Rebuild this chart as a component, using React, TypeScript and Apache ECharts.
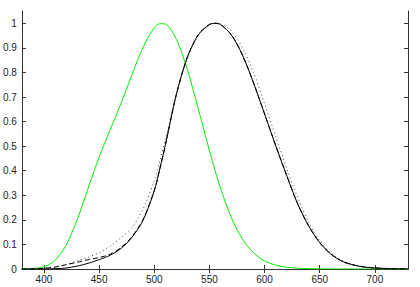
import React, { useEffect, useRef } from "react";
import * as echarts from "echarts";

const wavelengths = [380, 390, 400, 410, 420, 430, 440, 450, 460, 470, 480, 490, 500, 505, 510, 520, 530, 540, 550, 555, 560, 570, 580, 590, 600, 610, 620, 630, 640, 650, 660, 670, 680, 690, 700, 710, 720, 730];
// photopic luminosity — solid black
const photopic = [0.00004, 0.00012, 0.0004, 0.0012, 0.004, 0.0116, 0.023, 0.038, 0.056, 0.084, 0.13, 0.2, 0.318, 0.4073, 0.503, 0.71, 0.862, 0.954, 0.995, 1.0, 0.995, 0.952, 0.87, 0.757, 0.631, 0.503, 0.381, 0.265, 0.175, 0.107, 0.061, 0.032, 0.017, 0.0082, 0.0041, 0.0021, 0.00105, 0.00052];
// modified luminosity — dashed black
const juddVos = [0.0002, 0.0008, 0.0028, 0.0074, 0.0175, 0.0273, 0.0379, 0.0468, 0.06, 0.088, 0.133, 0.203, 0.32, 0.4073, 0.503, 0.71, 0.862, 0.954, 0.995, 1.0, 0.995, 0.952, 0.87, 0.757, 0.631, 0.503, 0.381, 0.265, 0.175, 0.107, 0.061, 0.032, 0.017, 0.0082, 0.0041, 0.0021, 0.00105, 0.00052];
// dotted black curve
const dotted = [0.0, 0.001, 0.003, 0.009, 0.019, 0.033, 0.048, 0.066, 0.093, 0.128, 0.17, 0.245, 0.36, 0.44, 0.525, 0.712, 0.858, 0.952, 0.994, 1.0, 0.998, 0.968, 0.9, 0.8, 0.672, 0.54, 0.41, 0.29, 0.19, 0.115, 0.066, 0.035, 0.018, 0.009, 0.0045, 0.002, 0.001, 0.0005];
// scotopic luminosity — green
const scotopic = [0.000589, 0.002209, 0.00929, 0.03484, 0.0966, 0.1998, 0.3281, 0.455, 0.567, 0.676, 0.793, 0.904, 0.982, 0.9983, 0.997, 0.935, 0.811, 0.65, 0.481, 0.402, 0.3288, 0.2076, 0.1212, 0.0655, 0.03315, 0.01593, 0.00737, 0.003335, 0.001497, 0.000677, 0.000313, 0.000148, 0.0000715, 0.0000353, 0.0000178, 0.0000091, 0.0000047, 0.0000025];

const xTicks = [400, 450, 500, 550, 600, 650, 700];
const yTicks = [0, 0.1, 0.2, 0.3, 0.4, 0.5, 0.6, 0.7, 0.8, 0.9, 1];

const pairs = (ys: number[]) => wavelengths.map((w, i) => [w, ys[i]]);

export default function App() {
  const ref = useRef<HTMLDivElement>(null);
  useEffect(() => {
    if (!ref.current) return;
    const chart = echarts.init(ref.current, undefined, { renderer: "svg" });
    const axisLine = { show: true, lineStyle: { color: "#333", width: 1 } };
    const font = { fontFamily: "Liberation Sans, Arial, sans-serif", fontSize: 10, color: "#222" };
    chart.setOption({
      animation: false,
      backgroundColor: "#fff",
      grid: { left: 21, top: 11, right: 12, bottom: 18, containLabel: false },
      xAxis: [
        {
          type: "value", min: 380, max: 730, position: "bottom",
          axisLine,
          axisTick: { show: true, inside: true, length: 4, customValues: xTicks, lineStyle: { color: "#333" } },
          axisLabel: { show: true, customValues: xTicks, margin: 5, ...font },
          splitLine: { show: false },
        },
        {
          type: "value", min: 380, max: 730, position: "top",
          axisLine,
          axisTick: { show: true, inside: true, length: 4, customValues: xTicks, lineStyle: { color: "#333" } },
          axisLabel: { show: false },
          splitLine: { show: false },
        },
      ],
      yAxis: [
        {
          type: "value", min: 0, max: 1.05, position: "left",
          axisLine,
          axisTick: { show: true, inside: true, length: 4, customValues: yTicks, lineStyle: { color: "#333" } },
          axisLabel: { show: true, customValues: yTicks, margin: 5, ...font, formatter: (v: number) => String(Math.round(v * 10) / 10) },
          splitLine: { show: false },
        },
        {
          type: "value", min: 0, max: 1.05, position: "right",
          axisLine,
          axisTick: { show: true, inside: true, length: 4, customValues: yTicks, lineStyle: { color: "#333" } },
          axisLabel: { show: false },
          splitLine: { show: false },
        },
      ],
      series: [
        { type: "line", data: pairs(scotopic), smooth: 0.3, showSymbol: false, lineStyle: { color: "#00ee00", width: 1 }, z: 2 },
        { type: "line", data: pairs(dotted), smooth: 0.3, showSymbol: false, lineStyle: { color: "#444", width: 1, type: [1, 3] }, z: 3 },
        { type: "line", data: pairs(juddVos), smooth: 0.3, showSymbol: false, lineStyle: { color: "#000", width: 1, type: [5, 3] }, z: 4 },
        { type: "line", data: pairs(photopic), smooth: 0.3, showSymbol: false, lineStyle: { color: "#000", width: 1 }, z: 5 },
      ],
    });
    return () => chart.dispose();
  }, []);
  return <div ref={ref} style={{ position: "fixed", left: 0, top: 0, width: 420, height: 287 }} />;
}
